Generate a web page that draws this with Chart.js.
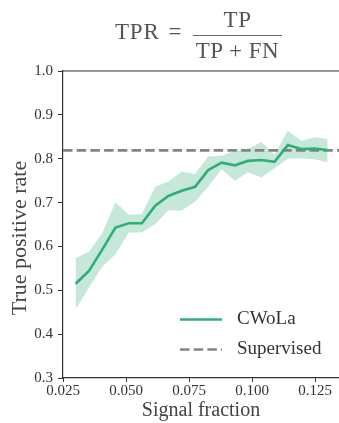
<!DOCTYPE html>
<html>
<head>
<meta charset="utf-8">
<title>TPR vs signal fraction</title>
<script src="https://cdn.jsdelivr.net/npm/chart.js@4.4.1/dist/chart.umd.min.js"></script>
<style>
  html, body { margin: 0; padding: 0; background: #fff; }
  #wrap { position: relative; width: 339px; height: 423px; overflow: hidden; }
  #wrap canvas { position: absolute; left: 0; top: 0; }
  .eq { position: absolute; font-family: "Liberation Serif", "DejaVu Serif", serif; font-size: 23px;
        line-height: 1; color: #555; white-space: nowrap; }
</style>
</head>
<body>
<div id="wrap">
  <canvas id="tprChart" width="339" height="423"></canvas>
  <!-- TPR = TP / (TP + FN) -->
  <div class="eq" style="left:115px; top:20px; letter-spacing:0.8px">TPR</div>
  <div class="eq" style="left:165px; top:20px; width:20px; text-align:center">=</div>
  <div class="eq" style="left:193px; top:8px; width:89px; text-align:center; letter-spacing:0.5px">TP</div>
  <div style="position:absolute; left:193px; top:35px; width:89px; height:1px; background:#666"></div>
  <div class="eq" style="left:193px; top:39px; width:89px; text-align:center; letter-spacing:0.5px">TP + FN</div>
</div>

<script>
// values
const signalFraction = [0.0300, 0.0353, 0.0405, 0.0458, 0.0511, 0.0563, 0.0616, 0.0668, 0.0721, 0.0774,
                        0.0826, 0.0879, 0.0932, 0.0984, 0.1037, 0.1089, 0.1142, 0.1195, 0.1247, 0.1300];
const cwolaTPR   = [0.515, 0.544, 0.592, 0.643, 0.653, 0.653, 0.693, 0.715, 0.727, 0.736,
                    0.774, 0.791, 0.785, 0.795, 0.797, 0.793, 0.831, 0.822, 0.823, 0.820];
const cwolaUpper = [0.573, 0.588, 0.630, 0.701, 0.672, 0.674, 0.736, 0.748, 0.771, 0.765,
                    0.805, 0.807, 0.818, 0.822, 0.838, 0.809, 0.864, 0.841, 0.849, 0.845];
const cwolaLower = [0.457, 0.506, 0.553, 0.582, 0.632, 0.632, 0.651, 0.682, 0.682, 0.702,
                    0.736, 0.776, 0.750, 0.769, 0.757, 0.778, 0.800, 0.801, 0.799, 0.792];
const supervisedTPR = 0.819;

const xTicks = [0.025, 0.050, 0.075, 0.100, 0.125];
const yTicks = [0.3, 0.4, 0.5, 0.6, 0.7, 0.8, 0.9, 1.0];
const xMin = 0.025, xMax = 0.1345;
const yMin = 0.3, yMax = 1.0;

const serif = "'Liberation Serif', serif";
const axisColor = '#333';

function toPoints(xs, ys) {
  return xs.map((x, i) => ({ x: x, y: ys[i] }));
}

// top spine, rotated y title and the legend inside the plot
const extras = {
  id: 'extras',
  afterDraw(chart) {
    const ctx = chart.ctx;
    const area = chart.chartArea;
    ctx.save();

    // top spine
    ctx.strokeStyle = axisColor;
    ctx.lineWidth = 1.2;
    ctx.beginPath();
    ctx.moveTo(area.left, area.top);
    ctx.lineTo(area.right, area.top);
    ctx.stroke();

    // y axis title
    ctx.fillStyle = '#444';
    ctx.font = '22px ' + serif;
    ctx.textAlign = 'center';
    ctx.textBaseline = 'middle';
    ctx.translate(20, 238);
    ctx.rotate(-Math.PI / 2);
    ctx.fillText('True positive rate', 0, 0);
    ctx.restore();

    // legend
    ctx.save();
    const rows = [chart.data.datasets[0], chart.data.datasets[1]];
    rows.forEach((ds, i) => {
      const y = 319.5 + i * 30;
      ctx.strokeStyle = ds.borderColor;
      ctx.lineWidth = ds.borderWidth;
      ctx.setLineDash(ds.borderDash || []);
      ctx.beginPath();
      ctx.moveTo(180, y);
      ctx.lineTo(222, y);
      ctx.stroke();
      ctx.setLineDash([]);
      ctx.fillStyle = '#333';
      ctx.font = '19px ' + serif;
      ctx.textAlign = 'left';
      ctx.textBaseline = 'middle';
      ctx.fillText(ds.label, 237, y);
    });
    ctx.restore();
  }
};

const canvas = document.getElementById('tprChart');
const chart = new Chart(canvas, {
  type: 'line',
  data: {
    datasets: [
      {
        label: 'CWoLa',
        data: toPoints(signalFraction, cwolaTPR),
        borderColor: '#2fae75',
        borderWidth: 2.6,
        pointRadius: 0,
        fill: false,
        tension: 0
      },
      {
        label: 'Supervised',
        data: [{ x: xMin, y: supervisedTPR }, { x: xMax, y: supervisedTPR }],
        borderColor: '#848484',
        borderWidth: 2.6,
        borderDash: [9.5, 4.2],
        pointRadius: 0,
        fill: false
      },
      {
        label: 'band upper',
        data: toPoints(signalFraction, cwolaUpper),
        borderWidth: 0,
        borderColor: 'rgba(0,0,0,0)',
        backgroundColor: 'rgba(47, 174, 117, 0.28)',
        pointRadius: 0,
        fill: '+1'
      },
      {
        label: 'band lower',
        data: toPoints(signalFraction, cwolaLower),
        borderWidth: 0,
        borderColor: 'rgba(0,0,0,0)',
        pointRadius: 0,
        fill: false
      }
    ]
  },
  options: {
    responsive: false,
    animation: false,
    layout: { padding: { top: 71, right: 0, bottom: 0, left: 0 } },
    plugins: {
      legend: { display: false },
      tooltip: { enabled: false }
    },
    scales: {
      x: {
        type: 'linear',
        min: xMin,
        max: xMax,
        afterBuildTicks: scale => { scale.ticks = xTicks.map(v => ({ value: v })); },
        afterFit: scale => { scale.height = 45; },
        border: { display: true, color: axisColor, width: 1.2 },
        grid: { display: true, drawOnChartArea: false, drawTicks: true, tickLength: 4, color: axisColor },
        ticks: {
          padding: 0,
          color: '#333',
          font: { family: serif, size: 15 },
          callback: v => v.toFixed(3)
        },
        title: {
          display: true,
          text: 'Signal fraction',
          color: '#444',
          font: { family: serif, size: 20 },
          padding: { top: 0, bottom: 0 }
        }
      },
      y: {
        min: yMin,
        max: yMax,
        afterBuildTicks: scale => { scale.ticks = yTicks.map(v => ({ value: v })); },
        afterFit: scale => { scale.width = 63; },
        border: { display: true, color: axisColor, width: 1.2 },
        grid: { display: true, drawOnChartArea: false, drawTicks: true, tickLength: 5, color: axisColor },
        ticks: {
          padding: 5,
          color: '#333',
          font: { family: serif, size: 15 },
          callback: v => v.toFixed(1)
        }
      }
    }
  },
  plugins: [extras]
});
</script>
</body>
</html>
